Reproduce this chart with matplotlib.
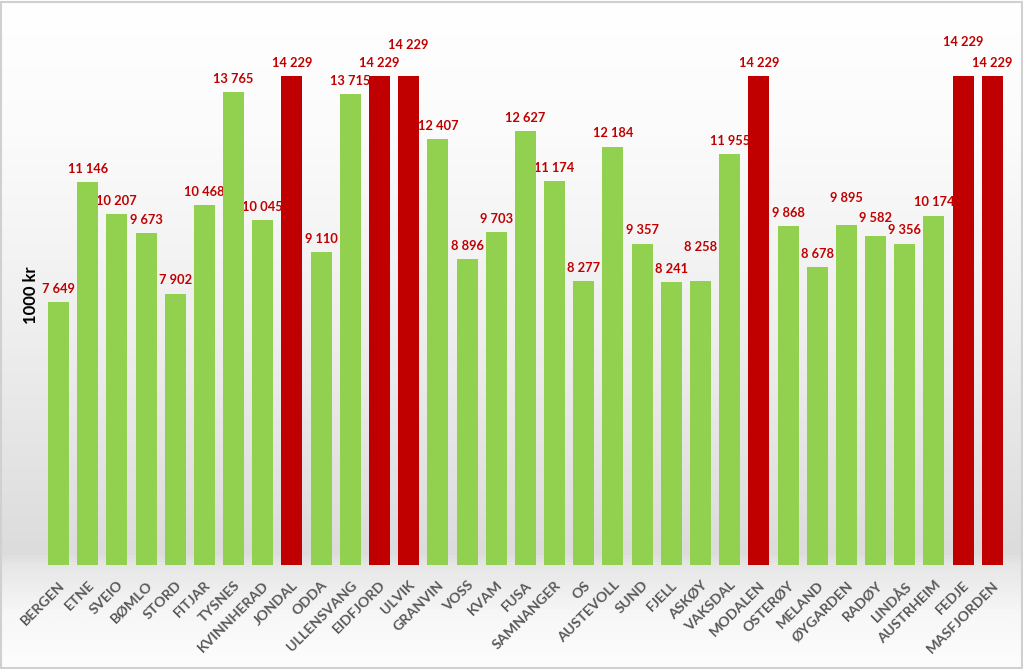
import numpy as np
import matplotlib
matplotlib.use("Agg")
import matplotlib.pyplot as plt
from matplotlib.colors import LinearSegmentedColormap

plt.rcParams['font.family'] = ['Lato', 'DejaVu Sans']

kommuner = ['BERGEN', 'ETNE', 'SVEIO', 'BØMLO', 'STORD', 'FITJAR', 'TYSNES',
            'KVINNHERAD', 'JONDAL', 'ODDA', 'ULLENSVANG', 'EIDFJORD', 'ULVIK',
            'GRANVIN', 'VOSS', 'KVAM', 'FUSA', 'SAMNANGER', 'OS', 'AUSTEVOLL',
            'SUND', 'FJELL', 'ASKØY', 'VAKSDAL', 'MODALEN', 'OSTERØY', 'MELAND',
            'ØYGARDEN', 'RADØY', 'LINDÅS', 'AUSTRHEIM', 'FEDJE', 'MASFJORDEN']
verdier = [7649, 11146, 10207, 9673, 7902, 10468, 13765, 10045, 14229, 9110,
           13715, 14229, 14229, 12407, 8896, 9703, 12627, 11174, 8277, 12184,
           9357, 8241, 8258, 11955, 14229, 9868, 8678, 9895, 9582, 9356, 10174,
           14229, 14229]
# kommuner som når taket (røde søyler)
tak = ['JONDAL', 'EIDFJORD', 'ULVIK', 'MODALEN', 'FEDJE', 'MASFJORDEN']
# ekstra løft (punkter) for etiketter som er flyttet opp
loft = {'ULVIK': 13, 'ASKØY': 15, 'ØYGARDEN': 10, 'RADØY': 3.5, 'FEDJE': 15.5}

gronn = '#92D050'
rod = '#C00000'

fig = plt.figure(figsize=(10.23, 6.69), dpi=100)

# bakgrunn med gradient
bg = fig.add_axes([0, 0, 1, 1])
bg.set_zorder(-10)
cmap = LinearSegmentedColormap.from_list('bg', [
    (0.0, '#fdfdfd'), (0.08, '#f7f7f7'), (0.155, '#e6e6e6'),
    (0.17, '#dcdcdc'), (0.5, '#eeeeee'), (0.8, '#fbfbfb'), (1.0, '#ffffff')])
grad = np.linspace(0, 1, 400).reshape(-1, 1)
bg.imshow(grad, aspect='auto', cmap=cmap, origin='lower', extent=[0, 1, 0, 1])
bg.set_xlim(0, 1)
bg.set_ylim(0, 1)
bg.axis('off')
bg.add_patch(plt.Rectangle((0.001, 0.001), 0.998, 0.996, fill=False,
                           edgecolor='#d0d0d0', linewidth=1.5))

ax = fig.add_axes([43.9 / 1023, 104 / 669, 963 / 1023, 565 / 669])
ax.patch.set_alpha(0)
x = np.arange(len(kommuner))
farger = [rod if k in tak else gronn for k in kommuner]
ax.bar(x, verdier, width=0.72, color=farger, zorder=3)

for i, (k, v) in enumerate(zip(kommuner, verdier)):
    ax.annotate(f'{v:,}'.replace(',', ' '), (i, v), xytext=(0, 9.5 + loft.get(k, 0)),
                textcoords='offset points', ha='center', va='center',
                fontsize=9.3, fontweight='bold', color=rod, zorder=2)

ax.set_xlim(-0.5, len(kommuner) - 0.5)
ax.set_ylim(0, 16450)
ax.set_yticks([])
ax.set_xticks(x)
ax.set_xticklabels(kommuner, rotation=45, ha='right', rotation_mode='anchor',
                   fontsize=10.3, fontweight='bold', color='#595959')
ax.tick_params(axis='x', length=0, pad=10)
for s in ax.spines.values():
    s.set_visible(False)

fig.text(31 / 1023, 1 - 295 / 669, '1000 kr', rotation=90, ha='center',
         va='center', fontsize=12, fontweight='bold', color='black')

fig.savefig('out.png', dpi=100)
